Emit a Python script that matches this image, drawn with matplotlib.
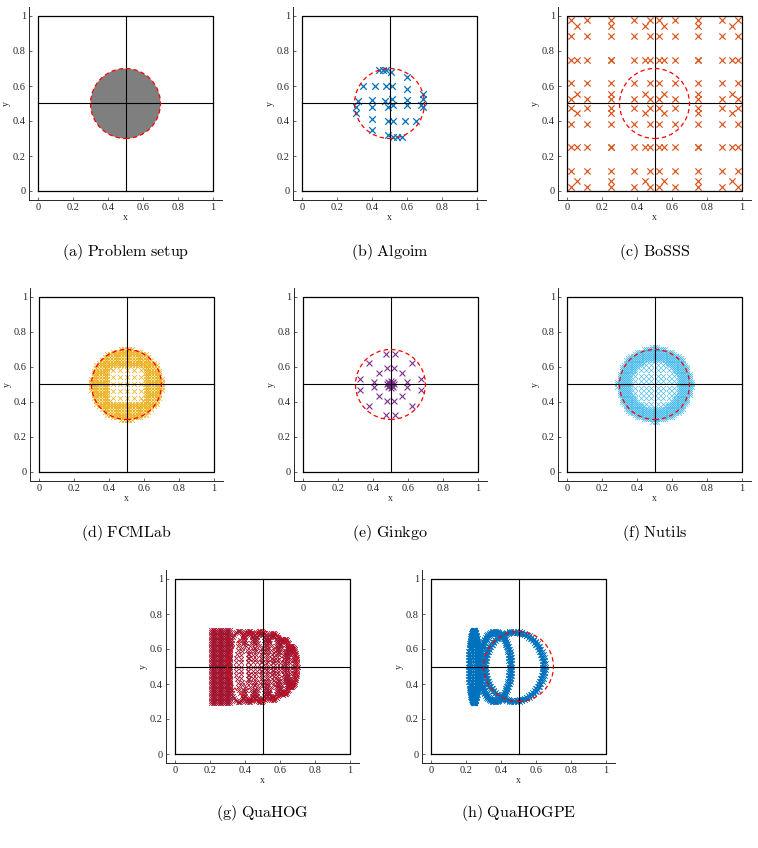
import numpy as np
import matplotlib.pyplot as plt
from matplotlib.patches import Circle

plt.rcParams['font.family'] = ['Liberation Serif', 'DejaVu Serif']
plt.rcParams['mathtext.fontset'] = 'cm'

# ---- shared geometry -------------------------------------------------------
box_x = [0, 1, 1, 0, 0]
box_y = [0, 0, 1, 1, 0]
mid = 0.5
circle_center = (0.5, 0.5)
circle_radius = 0.2
tick_vals = [0, 0.2, 0.4, 0.6, 0.8, 1]
tick_labels = ['0', '0.2', '0.4', '0.6', '0.8', '1']

captions = ['(a) Problem setup', '(b) Algoim', '(c) BoSSS', '(d) FCMLab',
            '(e) Ginkgo', '(f) Nutils', '(g) QuaHOG', '(h) QuaHOGPE']

# ---- Algoim points ---------------------------------------------------------
algoim_x = [0.44, 0.46, 0.48, 0.51, 0.60, 0.35, 0.415, 0.48, 0.515, 0.60, 0.69,
            0.32, 0.40, 0.475, 0.515, 0.60, 0.69, 0.31, 0.40, 0.49, 0.52, 0.60,
            0.68, 0.69, 0.31, 0.40, 0.49, 0.52, 0.59, 0.65, 0.40, 0.49, 0.52,
            0.54, 0.57]
algoim_y = [0.69, 0.69, 0.69, 0.68, 0.65, 0.60, 0.60, 0.60, 0.60, 0.585, 0.555,
            0.515, 0.52, 0.515, 0.525, 0.52, 0.525, 0.48, 0.48, 0.48, 0.49, 0.49,
            0.49, 0.48, 0.445, 0.41, 0.40, 0.40, 0.40, 0.40, 0.35, 0.32, 0.31,
            0.31, 0.31]

# ---- BoSSS nodes (per quadrant: 5x5 and 3x3 tensor grids) -----------------
bosss_n5 = [0.023, 0.115, 0.25, 0.385, 0.477, 0.523, 0.615, 0.75, 0.885, 0.977]
bosss_n3 = [0.056, 0.25, 0.444, 0.556, 0.75, 0.944]

# ---- FCMLab ----------------------------------------------------------------
fcm_fine = [0.297, 0.313, 0.328, 0.344, 0.359, 0.375, 0.391, 0.406, 0.422,
            0.438, 0.453, 0.469, 0.484, 0.5, 0.516, 0.531, 0.547, 0.563, 0.578,
            0.594, 0.609, 0.625, 0.641, 0.656, 0.672, 0.688, 0.703]
fcm_coarse = [0.42, 0.46, 0.5, 0.54, 0.58]

# ---- Ginkgo ----------------------------------------------------------------
ginkgo_x = [0.473, 0.527, 0.378, 0.622, 0.435, 0.565, 0.479, 0.521, 0.327, 0.327,
            0.673, 0.673, 0.403, 0.403, 0.597, 0.597, 0.435, 0.565, 0.378, 0.622,
            0.479, 0.521, 0.473, 0.527,
            0.49, 0.51, 0.49, 0.51, 0.5, 0.5, 0.48, 0.52, 0.495, 0.505, 0.495,
            0.505, 0.485, 0.515, 0.485, 0.515]
ginkgo_y = [0.673, 0.673, 0.624, 0.624, 0.567, 0.567, 0.595, 0.595, 0.529, 0.471,
            0.529, 0.471, 0.515, 0.485, 0.515, 0.485, 0.433, 0.433, 0.376, 0.376,
            0.405, 0.405, 0.327, 0.327,
            0.51, 0.51, 0.49, 0.49, 0.52, 0.48, 0.5, 0.5, 0.505, 0.505, 0.495,
            0.495, 0.515, 0.515, 0.485, 0.485]

# ---- Nutils ----------------------------------------------------------------
nut_fine = [0.2875, 0.3, 0.3125, 0.325, 0.3375, 0.35, 0.3625, 0.375, 0.3875,
            0.4, 0.4125, 0.425, 0.4375, 0.45, 0.4625, 0.475, 0.4875, 0.5,
            0.5125, 0.525, 0.5375, 0.55, 0.5625, 0.575, 0.5875, 0.6, 0.6125,
            0.625, 0.6375, 0.65, 0.6625, 0.675, 0.6875, 0.7, 0.7125]
nut_coarse = [0.39, 0.42, 0.45, 0.48, 0.52, 0.55, 0.58, 0.61]

# ---- QuaHOG ----------------------------------------------------------------
qh_block_x = [0.205, 0.215, 0.225, 0.235, 0.245, 0.255, 0.265, 0.275, 0.285,
              0.295, 0.305, 0.315]
qh_block_y = [0.29, 0.304, 0.318, 0.332, 0.346, 0.36, 0.374, 0.388, 0.402,
              0.416, 0.43, 0.444, 0.458, 0.472, 0.486, 0.5, 0.514, 0.528,
              0.542, 0.556, 0.57, 0.584, 0.598, 0.612, 0.626, 0.64, 0.654,
              0.668, 0.682, 0.696, 0.71]
qh_ell_cx = [0.364, 0.4215, 0.4885, 0.558, 0.6195, 0.661,
             0.4215, 0.4885, 0.558, 0.6195, 0.661]
qh_ell_a = [0.054, 0.0725, 0.0705, 0.064, 0.0605, 0.039,
            0.045, 0.044, 0.04, 0.037, 0.024]
qh_ell_b = [0.205, 0.205, 0.205, 0.191, 0.160, 0.119,
            0.19, 0.19, 0.178, 0.148, 0.11]

# ---- QuaHOGPE --------------------------------------------------------------
qpe_ell_cx = [0.245, 0.245, 0.245, 0.245, 0.245,
              0.365, 0.365, 0.365, 0.365, 0.475, 0.475, 0.475, 0.475]
qpe_ell_a = [0.006, 0.014, 0.021, 0.028, 0.035,
             0.1, 0.093, 0.086, 0.079, 0.18, 0.173, 0.166, 0.159]
qpe_ell_b = [0.21, 0.21, 0.21, 0.21, 0.21,
             0.205, 0.2, 0.195, 0.19, 0.205, 0.2, 0.195, 0.19]

colors = {'algoim': '#0072BD', 'bosss': '#D95319', 'fcm': '#EDB120',
          'ginkgo': '#7E2F8E', 'nutils': '#4DBEEE', 'quahog': '#A2142F',
          'quahogpe': '#0072BD'}

W, H = 758, 848
fig = plt.figure(figsize=(W / 100, H / 100), dpi=100)
BOX = 175.0

def make_ax(left, top):
    pad = 0.05 * BOX
    rect = [(left - pad) / W, 1 - (top + BOX + pad) / H, 1.1 * BOX / W, 1.1 * BOX / H]
    ax = fig.add_axes(rect)
    ax.set_xlim(-0.05, 1.05)
    ax.set_ylim(-0.05, 1.05)
    ax.spines['top'].set_visible(False)
    ax.spines['right'].set_visible(False)
    for s in ['left', 'bottom']:
        ax.spines[s].set_color('#262626')
        ax.spines[s].set_linewidth(0.7)
    ax.set_xticks(tick_vals)
    ax.set_xticklabels(tick_labels)
    ax.set_yticks(tick_vals)
    ax.set_yticklabels(tick_labels)
    ax.tick_params(direction='in', length=2, width=0.5, labelsize=7.5, pad=2.5,
                   colors='#262626')
    ax.set_xlabel('x', fontsize=7, labelpad=0.5, color='#262626')
    ax.set_ylabel('y', fontsize=7, labelpad=1.5, color='#262626')
    return ax

def finish(ax, left, cap_y, caption, gray=False):
    if gray:
        ax.add_patch(Circle(circle_center, circle_radius, fc='#7f7f7f', ec='none', zorder=1))
    ax.plot(box_x, box_y, color='k', lw=0.9, zorder=4)
    ax.plot([mid, mid], [0, 1], color='k', lw=0.8, zorder=4)
    ax.plot([0, 1], [mid, mid], color='k', lw=0.8, zorder=4)
    ax.add_patch(Circle(circle_center, circle_radius, fill=False, ec='red',
                        lw=0.9, ls=(0, (3.5, 2.5)), zorder=5))
    fig.text((left + BOX / 2) / W, 1 - cap_y / H,
             r'$\mathrm{' + caption.replace(' ', r'\ ') + '}$',
             ha='center', va='center', fontsize=11.5)

def xs(ax, x, y, c, s=18, lw=0.8):
    ax.scatter(x, y, marker='x', s=s, c=c, linewidths=lw, zorder=3)

def ellipse_pts(cx, a, b, n):
    t = np.linspace(0, 2 * np.pi, n, endpoint=False)
    return cx + a * np.cos(t), 0.5 + b * np.sin(t)

# row positions (box top px, caption centre px)
rows = [(16, 252), (297, 533), (579, 813)]
lefts = [[38, 302, 567], [39, 303, 567], [175, 431]]

# (a)
ax = make_ax(lefts[0][0], rows[0][0])
finish(ax, lefts[0][0], rows[0][1], captions[0], gray=True)

# (b)
ax = make_ax(lefts[0][1], rows[0][0])
xs(ax, algoim_x, algoim_y, colors['algoim'], s=22, lw=0.9)
finish(ax, lefts[0][1], rows[0][1], captions[1])

# (c)
ax = make_ax(lefts[0][2], rows[0][0])
g5x, g5y = np.meshgrid(bosss_n5, bosss_n5)
g3x, g3y = np.meshgrid(bosss_n3, bosss_n3)
xs(ax, np.r_[g5x.ravel(), g3x.ravel()], np.r_[g5y.ravel(), g3y.ravel()],
   colors['bosss'], s=20, lw=0.85)
finish(ax, lefts[0][2], rows[0][1], captions[2])

# (d)
ax = make_ax(lefts[1][0], rows[1][0])
fx, fy = np.meshgrid(fcm_fine, fcm_fine)
r = np.hypot(fx - 0.5, fy - 0.5)
inner = (np.abs(fx - 0.5) < 0.1) & (np.abs(fy - 0.5) < 0.1) & (r < 0.125)
m = (r <= 0.206) & ~inner
cx_, cy_ = np.meshgrid(fcm_coarse, fcm_coarse)
mc = np.hypot(cx_ - 0.5, cy_ - 0.5) < 0.12
xs(ax, np.r_[fx[m], cx_[mc]], np.r_[fy[m], cy_[mc]], colors['fcm'], s=12, lw=0.55)
finish(ax, lefts[1][0], rows[1][1], captions[3])

# (e)
ax = make_ax(lefts[1][1], rows[1][0])
xs(ax, ginkgo_x, ginkgo_y, colors['ginkgo'], s=18)
finish(ax, lefts[1][1], rows[1][1], captions[4])

# (f)
ax = make_ax(lefts[1][2], rows[1][0])
nx, ny = np.meshgrid(nut_fine, nut_fine)
r = np.hypot(nx - 0.5, ny - 0.5)
m = (r <= 0.213) & (r > 0.135)
ncx, ncy = np.meshgrid(nut_coarse, nut_coarse)
mc = np.hypot(ncx - 0.5, ncy - 0.5) < 0.135
xs(ax, np.r_[nx[m], ncx[mc]], np.r_[ny[m], ncy[mc]], colors['nutils'], s=12, lw=0.5)
finish(ax, lefts[1][2], rows[1][1], captions[5])

# (g)
ax = make_ax(lefts[2][0], rows[2][0])
bx, by = np.meshgrid(qh_block_x, qh_block_y)
px, py = [bx.ravel()], [by.ravel()]
for c, a, b in zip(qh_ell_cx, qh_ell_a, qh_ell_b):
    ex, ey = ellipse_pts(c, a, b, 52)
    px.append(ex)
    py.append(ey)
xs(ax, np.concatenate(px), np.concatenate(py), colors['quahog'], s=11, lw=0.6)
finish(ax, lefts[2][0], rows[2][1], captions[6])

# (h)
ax = make_ax(lefts[2][1], rows[2][0])
px, py = [], []
for c, a, b in zip(qpe_ell_cx, qpe_ell_a, qpe_ell_b):
    ex, ey = ellipse_pts(c, a, b, 72)
    px.append(ex)
    py.append(ey)
xs(ax, np.concatenate(px), np.concatenate(py), colors['quahogpe'], s=11, lw=0.6)
finish(ax, lefts[2][1], rows[2][1], captions[7])

fig.savefig('out.png', dpi=100)
